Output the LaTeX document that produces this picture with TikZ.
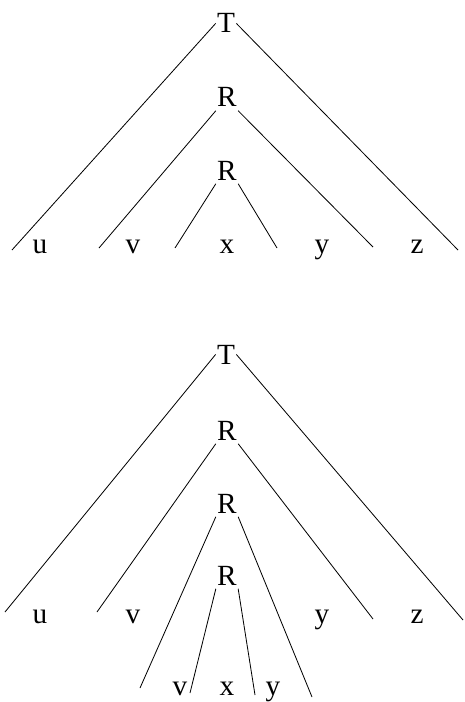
\documentclass[tikz,border=0pt]{standalone}
\usepackage{fontspec}
\setmainfont{Liberation Serif}
\usetikzlibrary{positioning}

\begin{document}
\begin{tikzpicture}[
  x=0.3mm, y=-0.3mm,
  sym/.style={font=\fontsize{25}{30}\selectfont, anchor=base, inner xsep=1pt, inner ysep=3pt},
  leaf/.style={font=\fontsize{25}{30}\selectfont, anchor=base},
  edge/.style={line width=0.7pt}
]
\useasboundingbox (0,0) rectangle (464,702);

% upper tree
\node[sym] (tA) at (226,33) {T};
\node[sym] (rA) at (227,107) {R};
\node[sym] (rB) at (227,180) {R};

\node[leaf] (uA) at (40,253) {u};
\node[leaf] (vA) at (133,253) {v};
\node[leaf] (xA) at (227,253) {x};
\node[leaf] (yA) at (322,253) {y};
\node[leaf] (zA) at (417,253) {z};

\coordinate (tAl) at (12,250);
\coordinate (tAr) at (458,250);
\coordinate (rAl) at (99,248);
\coordinate (rAr) at (373,247);
\coordinate (rBl) at (175,248);
\coordinate (rBr) at (277,248);

\draw[edge] (tA.west) -- (tAl);
\draw[edge] (tA.east) -- (tAr);
\draw[edge] (rA.south west) -- (rAl);
\draw[edge] (rA.south east) -- (rAr);
\draw[edge] (rB.south west) -- (rBl);
\draw[edge] (rB.south east) -- (rBr);

% lower tree
\node[sym] (tB) at (226,364) {T};
\node[sym] (rC) at (227,440) {R};
\node[sym] (rD) at (227,513) {R};
\node[sym] (rE) at (227,585) {R};

\node[leaf] (uB) at (40,623) {u};
\node[leaf] (vB) at (133,623) {v};
\node[leaf] (yB) at (322,623) {y};
\node[leaf] (zB) at (417,623) {z};
\node[leaf] (vC) at (180,695) {v};
\node[leaf] (xC) at (227,695) {x};
\node[leaf] (yC) at (273,695) {y};

\coordinate (tBl) at (5,612);
\coordinate (tBr) at (463,620);
\coordinate (rCl) at (97,612);
\coordinate (rCr) at (373,619);
\coordinate (rDl) at (140,688);
\coordinate (rDr) at (312,697);
\coordinate (rEl) at (190,693);
\coordinate (rEr) at (255,695);

\draw[edge] (tB.west) -- (tBl);
\draw[edge] (tB.east) -- (tBr);
\draw[edge] (rC.south west) -- (rCl);
\draw[edge] (rC.south east) -- (rCr);
\draw[edge] (rD.south west) -- (rDl);
\draw[edge] (rD.south east) -- (rDr);
\draw[edge] (rE.south west) -- (rEl);
\draw[edge] (rE.south east) -- (rEr);
\end{tikzpicture}
\end{document}
